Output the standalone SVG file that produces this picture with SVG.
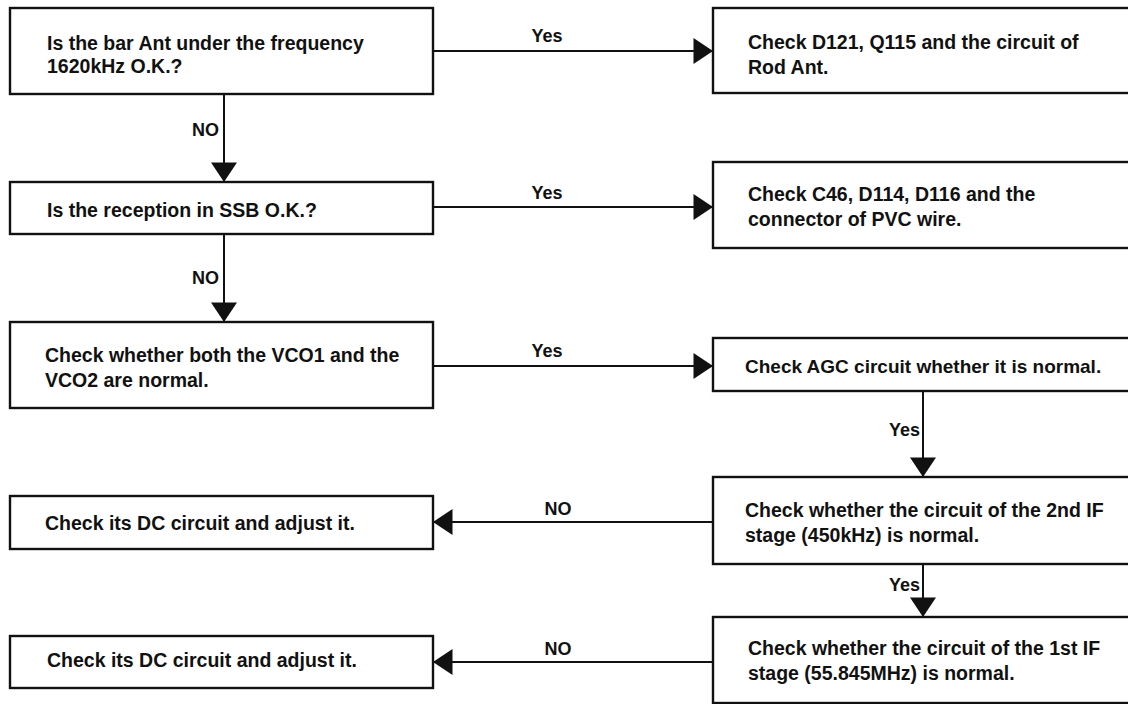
<svg xmlns="http://www.w3.org/2000/svg" width="1128" height="704" viewBox="0 0 1128 704">
<style>
.box{fill:#fff;stroke:#111;stroke-width:2.4}
.t{font-family:"Liberation Sans",Arial,sans-serif;font-size:19.5px;font-weight:bold;fill:#111}
.lbl{font-family:"Liberation Sans",Arial,sans-serif;font-size:18px;font-weight:bold;fill:#111}
.c{fill:none;stroke:#111;stroke-width:2}
</style>
<defs>
<marker id="ah" markerUnits="userSpaceOnUse" markerWidth="20" markerHeight="26" viewBox="0 0 18 24" refX="18" refY="12" orient="auto">
<path d="M0,0 L18,12 L0,24 Z" fill="#111"/>
</marker>
</defs>
<rect width="1128" height="704" fill="#fff"/>
<g id="connectors">
<line class="c" x1="433" y1="51" x2="713" y2="51" marker-end="url(#ah)"/>
<line class="c" x1="224" y1="94" x2="224" y2="182" marker-end="url(#ah)"/>
<line class="c" x1="433" y1="207" x2="713" y2="207" marker-end="url(#ah)"/>
<line class="c" x1="224" y1="234" x2="224" y2="322" marker-end="url(#ah)"/>
<line class="c" x1="433" y1="366" x2="713" y2="366" marker-end="url(#ah)"/>
<line class="c" x1="923" y1="391" x2="923" y2="477" marker-end="url(#ah)"/>
<line class="c" x1="713" y1="522" x2="433" y2="522" marker-end="url(#ah)"/>
<line class="c" x1="923" y1="564" x2="923" y2="617" marker-end="url(#ah)"/>
<line class="c" x1="713" y1="662" x2="433" y2="662" marker-end="url(#ah)"/>
<text class="lbl" x="547" y="42" text-anchor="middle">Yes</text>
<text class="lbl" x="219" y="136" text-anchor="end">NO</text>
<text class="lbl" x="547" y="199" text-anchor="middle">Yes</text>
<text class="lbl" x="219" y="284" text-anchor="end">NO</text>
<text class="lbl" x="547" y="357" text-anchor="middle">Yes</text>
<text class="lbl" x="920" y="436" text-anchor="end">Yes</text>
<text class="lbl" x="558" y="515" text-anchor="middle">NO</text>
<text class="lbl" x="920" y="591" text-anchor="end">Yes</text>
<text class="lbl" x="558" y="655" text-anchor="middle">NO</text>
</g>
<g id="n1">
<rect class="box" x="10" y="8" width="423" height="86"/>
<text class="t" x="47" y="50">Is the bar Ant under the frequency</text>
<text class="t" x="47" y="73">1620kHz O.K.?</text>
</g>
<g id="n2">
<rect class="box" x="713" y="8" width="430" height="85"/>
<text class="t" x="748" y="49">Check D121, Q115 and the circuit of</text>
<text class="t" x="748" y="74">Rod Ant.</text>
</g>
<g id="n3">
<rect class="box" x="10" y="182" width="423" height="52"/>
<text class="t" x="47" y="217">Is the reception in SSB O.K.?</text>
</g>
<g id="n4">
<rect class="box" x="713" y="162" width="430" height="86"/>
<text class="t" x="748" y="201">Check C46, D114, D116 and the</text>
<text class="t" x="748" y="226">connector of PVC wire.</text>
</g>
<g id="n5">
<rect class="box" x="10" y="322" width="423" height="86"/>
<text class="t" x="45" y="362">Check whether both the VCO1 and the</text>
<text class="t" x="45" y="387">VCO2 are normal.</text>
</g>
<g id="n6">
<rect class="box" x="713" y="338" width="430" height="53"/>
<text class="t" x="745" y="373" style="font-size:19px">Check AGC circuit whether it is normal.</text>
</g>
<g id="n7">
<rect class="box" x="713" y="477" width="430" height="87"/>
<text class="t" x="745" y="517">Check whether the circuit of the 2nd IF</text>
<text class="t" x="745" y="542">stage (450kHz) is normal.</text>
</g>
<g id="n8">
<rect class="box" x="10" y="496" width="423" height="53"/>
<text class="t" x="45" y="530">Check its DC circuit and adjust it.</text>
</g>
<g id="n9">
<rect class="box" x="713" y="617" width="430" height="86"/>
<text class="t" x="748" y="655">Check whether the circuit of the 1st IF</text>
<text class="t" x="748" y="680">stage (55.845MHz) is normal.</text>
</g>
<g id="n10">
<rect class="box" x="10" y="636" width="423" height="52"/>
<text class="t" x="47" y="667">Check its DC circuit and adjust it.</text>
</g>
</svg>
